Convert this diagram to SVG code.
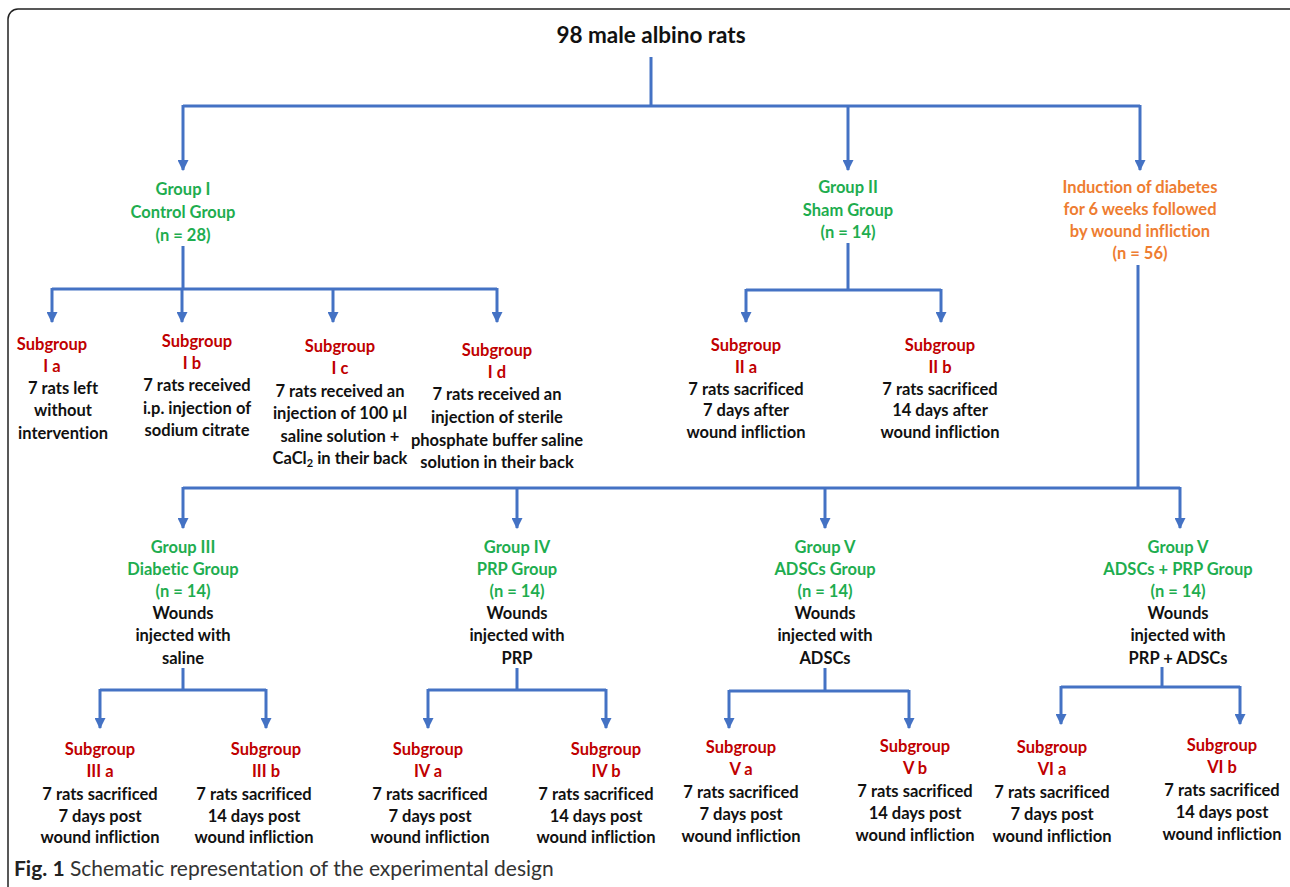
<svg xmlns="http://www.w3.org/2000/svg" width="1290" height="887" viewBox="0 0 1290 887">
<style>
text{font-family:Lato,"Open Sans","Liberation Sans",sans-serif;font-weight:bold;font-size:16.5px;text-anchor:middle;font-variant-ligatures:none}
.t{font-size:22.5px;fill:#111}
.g{fill:#1EAD4F}
.r{fill:#C00000}
.o{fill:#EE7D31}
.k{fill:#111}
.c{stroke:#4472C4;stroke-width:3;fill:none}
.a{marker-end:url(#ah)}
.cap{text-anchor:start;font-weight:normal;font-size:21px;fill:#333}
</style>
<defs>
<marker id="ah" viewBox="0 0 10 10" refX="9" refY="5" markerWidth="11" markerHeight="11" markerUnits="userSpaceOnUse" orient="auto">
<path d="M0,0 L10,5 L0,10 z" fill="#4472C4"/>
</marker>
</defs>
<rect x="8" y="9" width="1300" height="890" rx="10" fill="#fff" stroke="#222" stroke-width="1.5"/>
<g id="connectors">
<path class="c" d="M651,57 V106 M183,106 H1140"/>
<path class="c a" d="M183,105 V170"/>
<path class="c a" d="M848,105 V170"/>
<path class="c a" d="M1140,105 V170"/>
<path class="c" d="M183,246 V289 M52,289 H497"/>
<path class="c a" d="M52,288 V322"/>
<path class="c a" d="M182,288 V322"/>
<path class="c a" d="M333,288 V322"/>
<path class="c a" d="M497,288 V322"/>
<path class="c" d="M848,243 V290 M746,290 H941"/>
<path class="c a" d="M746,289 V322"/>
<path class="c a" d="M941,289 V322"/>
<path class="c" d="M1138,265 V488 M183,488 H1180"/>
<path class="c a" d="M183,487 V528"/>
<path class="c a" d="M517,487 V528"/>
<path class="c a" d="M825,487 V528"/>
<path class="c a" d="M1180,487 V528"/>
<path class="c" d="M183,668 V690 M100,690 H266"/>
<path class="c a" d="M100,689 V728"/>
<path class="c a" d="M266,689 V728"/>
<path class="c" d="M517,668 V690 M428,690 H606"/>
<path class="c a" d="M428,689 V728"/>
<path class="c a" d="M606,689 V728"/>
<path class="c" d="M825,668 V691 M729,691 H909"/>
<path class="c a" d="M729,690 V728"/>
<path class="c a" d="M909,690 V728"/>
<path class="c" d="M1162,667 V687 M1061,687 H1240"/>
<path class="c a" d="M1061,686 V724"/>
<path class="c a" d="M1240,686 V724"/>
</g>
<g id="root"><text class="t" x="651" y="43">98 male albino rats</text></g>
<g id="group1"><text class="g" x="183" y="195">Group I</text><text class="g" x="183" y="218">Control Group</text><text class="g" x="183" y="241">(n = 28)</text></g>
<g id="group2"><text class="g" x="848" y="193">Group II</text><text class="g" x="848" y="216">Sham Group</text><text class="g" x="848" y="238">(n = 14)</text></g>
<g id="induction"><text class="o" x="1140" y="193">Induction of diabetes</text><text class="o" x="1140" y="215">for 6 weeks followed</text><text class="o" x="1140" y="237">by wound infliction</text><text class="o" x="1140" y="259">(n = 56)</text></g>
<g id="sub-Ia"><text class="r" x="52" y="350">Subgroup</text><text class="r" x="52" y="372">I a</text><text class="k" x="63" y="394">7 rats left</text><text class="k" x="63" y="416">without</text><text class="k" x="63" y="439">intervention</text></g>
<g id="sub-Ib"><text class="r" x="197" y="347">Subgroup</text><text class="r" x="192" y="369">I b</text><text class="k" x="197" y="391">7 rats received</text><text class="k" x="197" y="414">i.p. injection of</text><text class="k" x="197" y="436">sodium citrate</text></g>
<g id="sub-Ic"><text class="r" x="340" y="352">Subgroup</text><text class="r" x="340" y="374">I c</text><text class="k" x="340" y="397">7 rats received an</text><text class="k" x="340" y="419">injection of 100 µl</text><text class="k" x="340" y="442">saline solution +</text><text class="k" x="340" y="464">CaCl<tspan font-size="11" dy="3">2</tspan><tspan dy="-3"> in their back</tspan></text></g>
<g id="sub-Id"><text class="r" x="497" y="356">Subgroup</text><text class="r" x="497" y="378">I d</text><text class="k" x="497" y="400">7 rats received an</text><text class="k" x="497" y="423">injection of sterile</text><text class="k" x="497" y="446">phosphate buffer saline</text><text class="k" x="497" y="468">solution in their back</text></g>
<g id="sub-IIa"><text class="r" x="746" y="351">Subgroup</text><text class="r" x="746" y="373">II a</text><text class="k" x="746" y="395">7 rats sacrificed</text><text class="k" x="746" y="416">7 days after</text><text class="k" x="746" y="438">wound infliction</text></g>
<g id="sub-IIb"><text class="r" x="940" y="351">Subgroup</text><text class="r" x="940" y="373">II b</text><text class="k" x="940" y="395">7 rats sacrificed</text><text class="k" x="940" y="416">14 days after</text><text class="k" x="940" y="438">wound infliction</text></g>
<g id="group3"><text class="g" x="183" y="553">Group III</text><text class="g" x="183" y="575">Diabetic Group</text><text class="g" x="183" y="597">(n = 14)</text><text class="k" x="183" y="619">Wounds</text><text class="k" x="183" y="641">injected with</text><text class="k" x="183" y="664">saline</text></g>
<g id="group4"><text class="g" x="517" y="553">Group IV</text><text class="g" x="517" y="575">PRP Group</text><text class="g" x="517" y="597">(n = 14)</text><text class="k" x="517" y="619">Wounds</text><text class="k" x="517" y="641">injected with</text><text class="k" x="517" y="664">PRP</text></g>
<g id="group5"><text class="g" x="825" y="553">Group V</text><text class="g" x="825" y="575">ADSCs Group</text><text class="g" x="825" y="597">(n = 14)</text><text class="k" x="825" y="619">Wounds</text><text class="k" x="825" y="641">injected with</text><text class="k" x="825" y="664">ADSCs</text></g>
<g id="group6"><text class="g" x="1178" y="553">Group V</text><text class="g" x="1178" y="575">ADSCs + PRP Group</text><text class="g" x="1178" y="597">(n = 14)</text><text class="k" x="1178" y="619">Wounds</text><text class="k" x="1178" y="641">injected with</text><text class="k" x="1178" y="664">PRP + ADSCs</text></g>
<g id="sub-IIIa"><text class="r" x="100" y="755">Subgroup</text><text class="r" x="100" y="777">III a</text><text class="k" x="100" y="800">7 rats sacrificed</text><text class="k" x="100" y="822">7 days post</text><text class="k" x="100" y="843">wound infliction</text></g>
<g id="sub-IIIb"><text class="r" x="266" y="755">Subgroup</text><text class="r" x="266" y="777">III b</text><text class="k" x="254" y="800">7 rats sacrificed</text><text class="k" x="254" y="822">14 days post</text><text class="k" x="254" y="843">wound infliction</text></g>
<g id="sub-IVa"><text class="r" x="428" y="755">Subgroup</text><text class="r" x="428" y="777">IV a</text><text class="k" x="430" y="800">7 rats sacrificed</text><text class="k" x="430" y="822">7 days post</text><text class="k" x="430" y="843">wound infliction</text></g>
<g id="sub-IVb"><text class="r" x="606" y="755">Subgroup</text><text class="r" x="606" y="777">IV b</text><text class="k" x="596" y="800">7 rats sacrificed</text><text class="k" x="596" y="822">14 days post</text><text class="k" x="596" y="843">wound infliction</text></g>
<g id="sub-Va"><text class="r" x="741" y="753">Subgroup</text><text class="r" x="741" y="775">V a</text><text class="k" x="741" y="798">7 rats sacrificed</text><text class="k" x="741" y="820">7 days post</text><text class="k" x="741" y="842">wound infliction</text></g>
<g id="sub-Vb"><text class="r" x="915" y="752">Subgroup</text><text class="r" x="915" y="774">V b</text><text class="k" x="915" y="797">7 rats sacrificed</text><text class="k" x="915" y="819">14 days post</text><text class="k" x="915" y="841">wound infliction</text></g>
<g id="sub-VIa"><text class="r" x="1052" y="753">Subgroup</text><text class="r" x="1052" y="775">VI a</text><text class="k" x="1052" y="798">7 rats sacrificed</text><text class="k" x="1052" y="820">7 days post</text><text class="k" x="1052" y="842">wound infliction</text></g>
<g id="sub-VIb"><text class="r" x="1222" y="751">Subgroup</text><text class="r" x="1222" y="773">VI b</text><text class="k" x="1222" y="796">7 rats sacrificed</text><text class="k" x="1222" y="818">14 days post</text><text class="k" x="1222" y="840">wound infliction</text></g>
<g id="caption"><text class="cap" x="14" y="876"><tspan font-weight="bold" fill="#222">Fig. 1</tspan> Schematic representation of the experimental design</text></g>
</svg>
